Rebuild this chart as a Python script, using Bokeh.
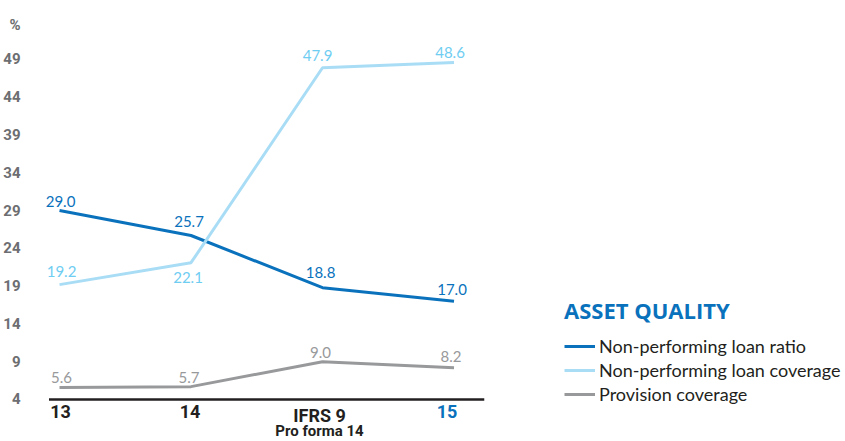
from bokeh.plotting import figure
from bokeh.models import Range1d, FixedTicker, Legend, LegendItem, ColumnDataSource
from bokeh.core.properties import value
from bokeh.embed import file_html
from bokeh.resources import INLINE

# ---- data ----
categories = ["13", "14", "IFRS 9", "15"]
sub_categories = ["", "", "Pro forma 14", ""]
npl_ratio = [29.0, 25.7, 18.8, 17.0]
npl_coverage = [19.2, 22.1, 47.9, 48.6]
provision_coverage = [5.6, 5.7, 9.0, 8.2]
y_ticks = [4, 9, 14, 19, 24, 29, 34, 39, 44, 49]
unit_label = "%"
title_text = "ASSET QUALITY"
series_names = ["Non-performing loan ratio", "Non-performing loan coverage", "Provision coverage"]

# ---- styles ----
DARK_BLUE = "#0a72bc"
LIGHT_BLUE_LINE = "#a9ddf6"
LIGHT_BLUE_TEXT = "#6fcdf2"
GREY = "#98999b"
TICK_GREY = "#6d6e71"
COND = "Roboto"
LABEL_FONT = "Lato"

xs = list(range(len(categories)))

p = figure(width=845, height=441, output_backend="svg", toolbar_location=None,
           x_range=Range1d(-0.137, 5.977), y_range=Range1d(-1.56, 56.8),
           x_axis_location=None, min_border_left=40, min_border_right=0,
           min_border_top=0, min_border_bottom=0)
p.outline_line_color = None
p.grid.visible = False
p.background_fill_color = "white"
p.border_fill_color = "white"

# y axis
p.yaxis.ticker = FixedTicker(ticks=y_ticks + [53.6])
p.yaxis.major_label_overrides = {53.6: unit_label}
p.yaxis.axis_line_color = None
p.yaxis.major_tick_line_color = None
p.yaxis.minor_tick_line_color = None
p.yaxis.major_label_standoff = 15
p.yaxis.major_label_text_font = COND
p.yaxis.major_label_text_font_style = "bold"
p.yaxis.major_label_text_font_size = "15px"
p.yaxis.major_label_text_color = TICK_GREY

# baseline (x axis line)
p.line(x=[-0.08, 3.23], y=[y_ticks[0], y_ticks[0]], line_color="#231f20", line_width=2.5)

# series lines
r1 = p.line(xs, npl_ratio, line_color=DARK_BLUE, line_width=3)
r2 = p.line(xs, npl_coverage, line_color=LIGHT_BLUE_LINE, line_width=3)
r3 = p.line(xs, provision_coverage, line_color=GREY, line_width=3)

# value labels
def add_labels(vals, color, xoff, yoff):
    src = ColumnDataSource(dict(x=xs, y=vals, t=[f"{v:.1f}" for v in vals],
                                xo=xoff, yo=yoff))
    p.text(x="x", y="y", text="t", x_offset="xo", y_offset="yo", source=src,
           text_align="center", text_baseline="middle", text_color=color,
           text_font=value(LABEL_FONT), text_font_size="15px")

add_labels(npl_ratio, DARK_BLUE, [1, -2, -2, -2], [-9, -14, -15, -12])
add_labels(npl_coverage, LIGHT_BLUE_TEXT, [2, -3, -5, -4], [-13, 15, -12, -10])
add_labels(provision_coverage, GREY, [2, -2, -2, -3], [-10, -9, -9, -11])

# category labels
cat_src = ColumnDataSource(dict(x=xs, y=[y_ticks[0]] * len(xs), t=categories,
                                s=sub_categories,
                                c=["#231f20", "#231f20", "#231f20", DARK_BLUE],
                                xo=[1, -1, -3, -7]))
p.text(x="x", y="y", text="t", x_offset="xo", y_offset=6, source=cat_src,
       text_align="center", text_baseline="top", text_color="c",
       text_font=value(COND), text_font_style="bold", text_font_size="18px")
p.text(x="x", y="y", text="s", x_offset="xo", y_offset=23, source=cat_src,
       text_align="center", text_baseline="top", text_color="c",
       text_font=value(COND), text_font_style="bold", text_font_size="15px")

legend = Legend(items=[LegendItem(label=series_names[0], renderers=[r1]),
                       LegendItem(label=series_names[1], renderers=[r2]),
                       LegendItem(label=series_names[2], renderers=[r3])],
                location=(523, 36), title=title_text,
                title_text_font="Open Sans", title_text_font_style="bold",
                title_text_font_size="22px", title_text_color=DARK_BLUE,
                title_standoff=10,
                label_text_font=LABEL_FONT, label_text_font_size="18px",
                label_text_color="#231f20",
                glyph_width=31, glyph_height=20, label_height=20,
                label_standoff=4, spacing=2, padding=0, margin=0,
                border_line_color=None, background_fill_alpha=0)
p.add_layout(legend, "center")

open("out.html", "w").write(file_html(p, INLINE))
